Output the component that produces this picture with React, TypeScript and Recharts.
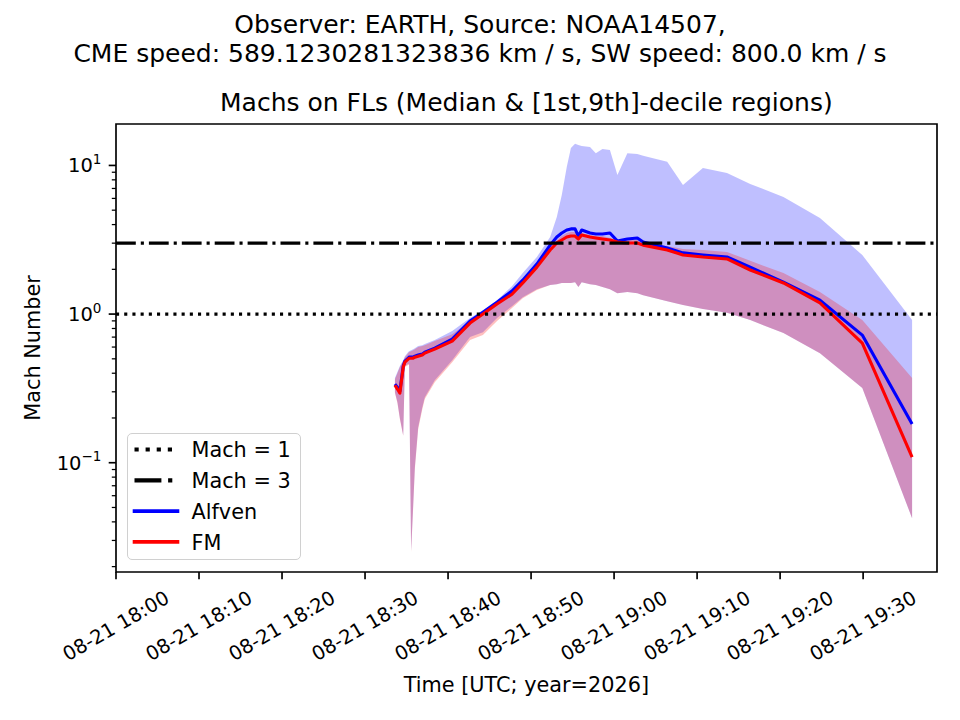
import {
  ComposedChart,
  Area,
  Line,
  XAxis,
  YAxis,
  ReferenceLine,
  ReferenceArea,
  Legend,
} from 'recharts'

// minutes after 08-21 18:00 UTC
const TIMES = [
  33.6, 33.9, 34.2, 34.6, 34.8, 35.2, 35.3, 35.55, 35.8, 36.0, 36.4, 36.9, 37.2, 38.4, 40.5, 42.65,
  44.2, 45.9, 47.7, 49.0, 50.7, 52.3, 53.1, 53.7, 54.3, 54.8, 55.3, 55.7, 56.1, 57.1, 57.8, 58.6,
  59.5, 60.4, 61.6, 62.8, 63.5, 66.4, 68.3, 70.7, 73.6, 76.4, 80.4, 84.8, 89.9, 95.9,
]

// Alfven Mach: 1st decile, median, 9th decile
const ALF_LO = [
  0.298, 0.256, 0.199, 0.153, 0.447, 0.461, 0.461, 0.0257, 0.0517, 0.0933, 0.173, 0.236, 0.276, 0.359,
  0.49, 0.7, 0.756, 0.94, 1.13, 1.3, 1.47, 1.57, 1.59, 1.62, 1.62, 1.62, 1.64, 1.52, 1.64, 1.59, 1.57,
  1.52, 1.47, 1.38, 1.41, 1.38, 1.34, 1.22, 1.15, 1.08, 1.02, 0.911, 0.745, 0.546, 0.318, 0.0423,
]
const ALF_MED = [
  0.338, 0.322, 0.303, 0.447, 0.483, 0.505, 0.513, 0.513, 0.513, 0.521, 0.53, 0.538, 0.555, 0.59,
  0.679, 0.897, 1.03, 1.2, 1.43, 1.69, 2.17, 2.91, 3.3, 3.51, 3.68, 3.74, 3.74, 3.35, 3.68, 3.51, 3.46,
  3.46, 3.51, 3.1, 3.2, 3.25, 3.05, 2.78, 2.58, 2.5, 2.42, 2.07, 1.64, 1.24, 0.722, 0.182,
]
const ALF_HI = [
  0.371, 0.407, 0.447, 0.49, 0.521, 0.555, 0.563, 0.572, 0.581, 0.59, 0.609, 0.618, 0.628, 0.668,
  0.768, 0.94, 1.06, 1.24, 1.54, 1.89, 2.42, 3.3, 4.5, 6.33, 9.77, 13.1, 14.0, 13.7, 13.5, 13.3, 12.1,
  12.9, 12.7, 8.63, 12.1, 11.95, 11.6, 10.6, 7.39, 9.62, 8.9, 7.51, 6.14, 4.43, 2.5, 0.911,
]

// fast-magnetosonic Mach: 1st decile, median, 9th decile
const FM_LO = [
  0.294, 0.252, 0.196, 0.151, 0.44, 0.454, 0.454, 0.025, 0.0502, 0.0904, 0.168, 0.229, 0.268, 0.348,
  0.475, 0.668, 0.722, 0.897, 1.1, 1.28, 1.45, 1.57, 1.59, 1.62, 1.62, 1.62, 1.64, 1.52, 1.64, 1.59,
  1.57, 1.52, 1.47, 1.38, 1.41, 1.38, 1.34, 1.22, 1.15, 1.08, 1.02, 0.911, 0.745, 0.546, 0.318, 0.0423,
]
const FM_MED = [
  0.332, 0.313, 0.294, 0.44, 0.475, 0.498, 0.505, 0.505, 0.505, 0.513, 0.521, 0.53, 0.546, 0.581,
  0.658, 0.87, 1.0, 1.17, 1.36, 1.62, 2.07, 2.7, 3.01, 3.15, 3.3, 3.35, 3.35, 3.2, 3.4, 3.3, 3.25, 3.2,
  3.15, 3.05, 3.01, 3.01, 2.91, 2.7, 2.5, 2.42, 2.35, 1.98, 1.62, 1.19, 0.638, 0.109,
]
const FM_HI = [
  0.365, 0.4, 0.44, 0.483, 0.513, 0.546, 0.555, 0.563, 0.572, 0.581, 0.6, 0.609, 0.618, 0.658, 0.733,
  0.897, 1.02, 1.19, 1.41, 1.67, 2.14, 2.83, 3.15, 3.35, 3.51, 3.57, 3.57, 3.35, 3.51, 3.4, 3.35, 3.35,
  3.25, 3.15, 3.15, 3.15, 3.01, 2.87, 2.74, 2.7, 2.62, 2.28, 1.89, 1.41, 0.911, 0.371,
]

const X_TICKS = [0, 10, 20, 30, 40, 50, 60, 70, 80, 90]
const X_TICK_LABELS = [
  '08-21 18:00', '08-21 18:10', '08-21 18:20', '08-21 18:30', '08-21 18:40',
  '08-21 18:50', '08-21 19:00', '08-21 19:10', '08-21 19:20', '08-21 19:30',
]
const Y_MAJOR = [0.1, 1, 10]
const Y_MAJOR_EXP = ['\u22121', '0', '1']
const Y_MINOR = [
  0.02, 0.03, 0.04, 0.05, 0.06, 0.07, 0.08, 0.09,
  0.2, 0.3, 0.4, 0.5, 0.6, 0.7, 0.8, 0.9,
  2, 3, 4, 5, 6, 7, 8, 9,
]
const Y_TICKS = [...Y_MINOR, ...Y_MAJOR].sort((a, b) => a - b)

const X_DOMAIN = [0, 98.9]
const Y_DOMAIN = [0.0184, 19.0]

const rows = TIMES.map((t, i) => ({
  t,
  alfBand: [ALF_LO[i], ALF_HI[i]],
  fmBand: [FM_LO[i], FM_HI[i]],
  alf: ALF_MED[i],
  fm: FM_MED[i],
}))

const TICK_FONT = 19.5
const LABEL_FONT = 20.8

function XTick(props: any) {
  const { x, y, payload } = props
  const i = X_TICKS.indexOf(payload.value)
  const cy = y + 54
  return (
    <g>
      <line x1={x} y1={y} x2={x} y2={y + 7.3} stroke="#000" strokeWidth={1.67} />
      <text
        x={x}
        y={cy}
        fontSize={TICK_FONT}
        fill="#000"
        textAnchor="middle"
        dominantBaseline="central"
        transform={`rotate(-30 ${x} ${cy})`}
      >
        {X_TICK_LABELS[i]}
      </text>
    </g>
  )
}

function YTick(props: any) {
  const { x, y, payload } = props
  const m = Y_MAJOR.indexOf(payload.value)
  if (m < 0) {
    return <line x1={x - 4.2} y1={y} x2={x} y2={y} stroke="#000" strokeWidth={1.25} />
  }
  return (
    <g>
      <line x1={x - 7.3} y1={y} x2={x} y2={y} stroke="#000" strokeWidth={1.67} />
      <text x={x - 14.6} y={y + 7} fontSize={TICK_FONT} fill="#000" textAnchor="end">
        10
        <tspan dy={-8.5} fontSize={13.5}>
          {Y_MAJOR_EXP[m]}
        </tspan>
      </text>
    </g>
  )
}

const LEGEND_ITEMS = [
  { label: 'Mach = 1', color: '#000', width: 4.2, dash: '4.2 6.9', cap: 'butt' },
  { label: 'Mach = 3', color: '#000', width: 4.2, dash: '26.9 6.7 4.2 6.7', cap: 'butt' },
  { label: 'Alfven', color: '#0000ff', width: 3.6, dash: undefined, cap: 'square' },
  { label: 'FM', color: '#ff0000', width: 3.6, dash: undefined, cap: 'square' },
]

function LegendBox() {
  return (
    <div
      style={{
        width: 174,
        height: 127,
        boxSizing: 'border-box',
        border: '1.5px solid #d0d0d0',
        borderRadius: 5,
        background: 'rgba(255,255,255,0.8)',
        position: 'relative',
      }}
    >
      <svg width={174} height={127} style={{ position: 'absolute', left: -1.5, top: -1.5 }}>
        {LEGEND_ITEMS.map((it, i) => {
          const cy = 16.5 + i * 30.8
          return (
            <g key={it.label}>
              <line
                x1={7.5}
                y1={cy}
                x2={50.5}
                y2={cy}
                stroke={it.color}
                strokeWidth={it.width}
                strokeDasharray={it.dash}
                strokeLinecap={it.cap as any}
              />
              <text x={64.5} y={cy + 7.6} fontSize={LABEL_FONT} fill="#000">
                {it.label}
              </text>
            </g>
          )
        })}
      </svg>
    </div>
  )
}

export default function App() {
  return (
    <div
      style={{
        position: 'absolute',
        left: 0,
        top: 0,
        width: 960,
        height: 720,
        background: '#fff',
        fontFamily: '"DejaVu Sans", sans-serif',
      }}
    >
      <ComposedChart
        width={960}
        height={720}
        data={rows}
        margin={{ top: 124, right: 23, bottom: 88, left: 56 }}
      >
        <XAxis
          dataKey="t"
          type="number"
          domain={X_DOMAIN}
          allowDataOverflow
          ticks={X_TICKS}
          interval={0}
          tickSize={0}
          tickMargin={0}
          axisLine={false}
          tickLine={false}
          tick={(p: any) => <XTick {...p} />}
          height={60}
        />
        <YAxis
          type="number"
          scale="log"
          domain={Y_DOMAIN}
          allowDataOverflow
          ticks={Y_TICKS}
          interval={0}
          tickSize={0}
          tickMargin={0}
          axisLine={false}
          tickLine={false}
          tick={(p: any) => <YTick {...p} />}
          width={60}
        />
        <Area
          type="linear"
          dataKey="alfBand"
          fill="#0000ff"
          fillOpacity={0.25}
          stroke="none"
          dot={false}
          activeDot={false}
          isAnimationActive={false}
        />
        <Area
          type="linear"
          dataKey="fmBand"
          fill="#ff0000"
          fillOpacity={0.25}
          stroke="none"
          dot={false}
          activeDot={false}
          isAnimationActive={false}
        />
        <Line
          type="linear"
          dataKey="alf"
          stroke="#0000ff"
          strokeWidth={3.1}
          strokeLinejoin="round"
          dot={false}
          activeDot={false}
          isAnimationActive={false}
        />
        <Line
          type="linear"
          dataKey="fm"
          stroke="#ff0000"
          strokeWidth={3.1}
          strokeLinejoin="round"
          dot={false}
          activeDot={false}
          isAnimationActive={false}
        />
        <ReferenceLine y={1} stroke="#000" strokeWidth={3.1} strokeDasharray="3.1 5.1" />
        <ReferenceLine y={3} stroke="#000" strokeWidth={3.1} strokeDasharray="19.8 5 3.1 5" />
        <ReferenceArea
          x1={X_DOMAIN[0]}
          x2={X_DOMAIN[1]}
          y1={Y_DOMAIN[0]}
          y2={Y_DOMAIN[1]}
          fill="none"
          stroke="#000"
          strokeWidth={1.67}
          ifOverflow="visible"
        />
        <Legend
          layout="horizontal"
          verticalAlign="middle"
          align="center"
          wrapperStyle={{ position: 'absolute', left: 127, top: 433, width: 174, height: 127 }}
          content={() => <LegendBox />}
        />
      </ComposedChart>
      <svg
        width={960}
        height={720}
        style={{ position: 'absolute', left: 0, top: 0, pointerEvents: 'none' }}
      >
        <text x={480} y={33} fontSize={25} textAnchor="middle" fill="#000">
          Observer: EARTH, Source: NOAA14507,
        </text>
        <text x={480} y={62} fontSize={25} textAnchor="middle" fill="#000">
          CME speed: 589.1230281323836 km / s, SW speed: 800.0 km / s
        </text>
        <text x={526.4} y={111} fontSize={25} textAnchor="middle" fill="#000">
          Machs on FLs (Median &amp; [1st,9th]-decile regions)
        </text>
        <text x={526.4} y={692} fontSize={LABEL_FONT} textAnchor="middle" fill="#000">
          Time [UTC; year=2026]
        </text>
        <text
          x={40}
          y={348}
          fontSize={LABEL_FONT}
          textAnchor="middle"
          fill="#000"
          transform="rotate(-90 40 348)"
        >
          Mach Number
        </text>
      </svg>
    </div>
  )
}
